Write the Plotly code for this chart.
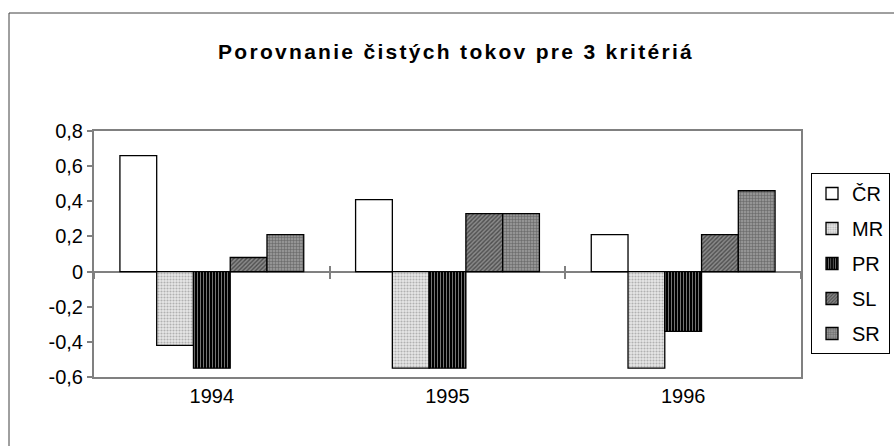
import plotly.graph_objects as go

categories = ["1994", "1995", "1996"]
series_names = ["ČR", "MR", "PR", "SL", "SR"]
cr = [0.66, 0.41, 0.21]
mr = [-0.42, -0.55, -0.55]
pr = [-0.55, -0.55, -0.34]
sl = [0.08, 0.33, 0.21]
sr = [0.21, 0.33, 0.46]
ytick_vals = [-0.6, -0.4, -0.2, 0, 0.2, 0.4, 0.6, 0.8]
ytick_text = ["-0,6", "-0,4", "-0,2", "0", "0,2", "0,4", "0,6", "0,8"]
title_text = "Porovnanie čistých tokov pre 3 kritériá"

series_values = [cr, mr, pr, sl, sr]
patterns = [
    dict(shape="", bgcolor="white"),
    dict(shape=".", fgcolor="#7a7a7a", bgcolor="#e8e8e8", size=3, solidity=0.4),
    dict(shape="|", fgcolor="white", bgcolor="black", size=3, solidity=0.3),
    dict(shape="/", fgcolor="#111111", bgcolor="#8a8a8a", size=3, solidity=0.45),
    dict(shape="+", fgcolor="#2e2e2e", bgcolor="#949494", size=3, solidity=0.3),
]
fills = ["white", "#e8e8e8", "black", "#8a8a8a", "#949494"]

FONT = "Arial, 'Liberation Sans', sans-serif"

fig = go.Figure()
for i, (name, vals) in enumerate(zip(series_names, series_values)):
    fig.add_trace(go.Bar(
        x=categories, y=vals, name=name, legendgroup=name,
        marker=dict(color=fills[i], pattern=patterns[i],
                    line=dict(color="black", width=1.3)),
        xaxis="x", yaxis="y",
    ))

fig.update_layout(
    width=894, height=446,
    margin=dict(l=94, r=93, t=131, b=69, autoexpand=False),
    paper_bgcolor="white", plot_bgcolor="white",
    font=dict(family=FONT, size=20, color="black"),
    barmode="group", bargap=0.22, bargroupgap=0,
    title=dict(
        text='<span style="letter-spacing:2.3px"><b>' + title_text + '</b></span>',
        x=456 / 894, xanchor="center", y=1 - 52 / 446, yanchor="middle",
        yref="container", font=dict(size=21, family=FONT),
    ),
    xaxis=dict(type="category", range=[-0.5, 2.5], showgrid=False,
               showline=True, linecolor="#808080", linewidth=2, mirror=True,
               ticks="", tickfont=dict(size=20), zeroline=False),
    xaxis2=dict(overlaying="x", anchor="free", position=0.6 / 1.4,
                range=[-0.5, 2.5], tickvals=[-0.5, 0.5, 1.5, 2.5],
                ticks="outside", ticklen=6, tickcolor="#808080", tickwidth=1.5,
                showticklabels=False, showgrid=False, showline=False, zeroline=False),
    xaxis3=dict(overlaying="x", anchor="free", position=0.6 / 1.4,
                range=[-0.5, 2.5], tickvals=[-0.5, 0.5, 1.5, 2.5],
                ticks="inside", ticklen=6, tickcolor="#808080", tickwidth=1.5,
                showticklabels=False, showgrid=False, showline=False, zeroline=False),
    yaxis=dict(range=[-0.6, 0.8], tickvals=ytick_vals, ticktext=ytick_text,
               showgrid=False, showline=True, linecolor="#808080", linewidth=2,
               mirror=True, ticks="outside", ticklen=5, tickcolor="#808080",
               tickwidth=1.5, zeroline=True, zerolinecolor="#808080",
               zerolinewidth=1.5, tickfont=dict(size=20)),
    legend=dict(x=(890 - 94) / 707, xanchor="right", y=(377 - 173) / 246,
                yanchor="top", bordercolor="black", borderwidth=1,
                bgcolor="white", tracegroupgap=6,
                font=dict(size=20, family=FONT), itemwidth=30),
    shapes=[dict(type="rect", xref="paper", yref="paper",
                 x0=(9 - 94) / 707, y0=-1, x1=1.5, y1=(377 - 13) / 246,
                 line=dict(color="#404040", width=1), layer="below")],
)

# invisible helpers so the zero-line tick axes render
fig.add_trace(go.Scatter(x=[0], y=[0], xaxis="x2", yaxis="y", mode="markers",
                         marker=dict(opacity=0), showlegend=False, hoverinfo="skip"))
fig.add_trace(go.Scatter(x=[0], y=[0], xaxis="x3", yaxis="y", mode="markers",
                         marker=dict(opacity=0), showlegend=False, hoverinfo="skip"))

fig.write_html("out.html",
               config={"displayModeBar": False},
               post_script="document.body.style.margin='0';document.body.style.padding='0';")
